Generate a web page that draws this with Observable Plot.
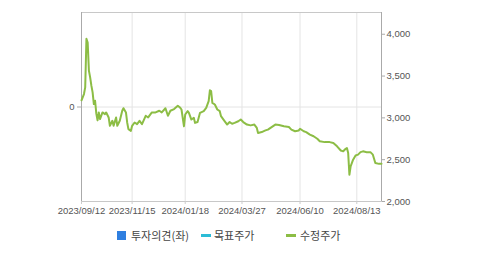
<!DOCTYPE html>
<html><head><meta charset="utf-8">
<script src="https://cdn.jsdelivr.net/npm/d3@7"></script>
<script src="https://cdn.jsdelivr.net/npm/@observablehq/plot@0.6"></script>
<style>
body{margin:0;background:#fff;}
#wrap{position:relative;width:479px;height:254px;overflow:hidden;background:#fff;}
#chart{position:absolute;left:0;top:0;}
#legend{position:absolute;top:226px;left:0;width:479px;height:18px;font-size:11px;color:#444;font-family:"Noto Sans CJK KR",sans-serif;}
.item{position:absolute;top:0;line-height:18px;white-space:nowrap;}
.sw{position:absolute;}
</style></head><body>
<div id="wrap"><div id="chart"></div><div id="legend"></div></div>
<script>
// trading-day index of each sampled point, and adjusted price (수정주가)
const days = [0,2,3,4,5,6,7,8,9,10,11,12,13,14,15,17,19,20,22,23,25,26,28,29,31,33,34,36,37,38,40,41,43,45,47,49,52,54,57,60,63,65,68,70,72,75,78,80,81,83,84,86,87,89,91,92,94,96,99,101,103,104,105,106,108,110,112,113,115,118,120,122,124,127,129,131,134,137,140,142,143,146,149,151,154,157,160,164,168,170,173,176,177,180,182,185,188,191,193,197,201,204,207,210,212,214,215,216,217,218,220,222,224,226,228,231,234,236,238,241,243];
const prices = [3210,3285,3365,3945,3900,3565,3485,3385,3305,3165,3205,3050,2970,3065,2985,3065,3045,3065,3005,2905,2965,2905,3005,2905,2965,3085,3115,3065,2945,2865,2845,2905,2945,2925,2965,2925,3025,3005,3065,3065,3085,3065,3115,3025,3085,3105,3145,3120,3100,2900,3040,3080,3060,2980,3000,2940,2950,3060,3080,3120,3200,3330,3320,3180,3160,3100,3080,3020,2980,2920,2950,2930,2940,2960,2980,2950,2920,2910,2920,2880,2820,2830,2850,2860,2890,2920,2915,2900,2890,2860,2840,2850,2870,2840,2830,2800,2780,2750,2720,2710,2710,2700,2660,2610,2600,2630,2640,2580,2320,2420,2500,2550,2560,2590,2600,2590,2590,2560,2460,2450,2450];
const dayDomain = [0, 243];
const tickDays = [0, 41, 84, 130, 177, 223];
const tickLabels = ["2023/09/12","2023/11/15","2024/01/18","2024/03/27","2024/06/10","2024/08/13"];
const priceDomain = [2000, 4260];
const priceTicks = [2000, 2500, 3000, 3500, 4000];
const opinionDomain = [-1, 1];
const opinionTicks = [0];
const legendNames = ["투자의견(좌)", "목표주가", "수정주가"];
const legendColors = ["#2f7fe0", "#2cbcd6", "#8cbd45"];

const toPrice = v => priceDomain[0] + (v - opinionDomain[0]) / (opinionDomain[1] - opinionDomain[0]) * (priceDomain[1] - priceDomain[0]);
const fromPrice = p => opinionDomain[0] + (p - priceDomain[0]) / (priceDomain[1] - priceDomain[0]) * (opinionDomain[1] - opinionDomain[0]);

const chart = Plot.plot({
  width: 479,
  height: 222,
  marginLeft: 81,
  marginRight: 98,
  marginTop: 12,
  marginBottom: 21,
  style: {fontFamily: '"Liberation Sans", Arial, sans-serif', fontSize: "9.5px", color: "#555", background: "transparent"},
  x: {domain: dayDomain},
  y: {domain: priceDomain},
  marks: [
    Plot.gridX(tickDays, {stroke: "#e4e4e4", strokeOpacity: 1}),
    Plot.gridY(opinionTicks.map(toPrice), {stroke: "#e4e4e4", strokeOpacity: 1}),
    Plot.frame({stroke: "#c8c8c8"}),
    Plot.ruleX([dayDomain[0], dayDomain[1]], {stroke: "#aaa"}),
    Plot.ruleY([priceDomain[0]], {stroke: "#c8c8c8"}),
    Plot.axisX(tickDays, {tickFormat: (d, i) => tickLabels[tickDays.indexOf(d)], tickSize: 3, tickPadding: 3, stroke: "#ccc", fill: "#555", label: null}),
    Plot.axisY(priceTicks, {anchor: "right", tickSize: 3, tickPadding: 2, tickFormat: d3.format(","), stroke: "#aaa", fill: "#555", label: null}),
    Plot.axisY(opinionTicks.map(toPrice), {anchor: "left", tickSize: 4, tickPadding: 3, tickFormat: d => String(Math.round(fromPrice(d))), stroke: "#aaa", fill: "#555", label: null}),
    Plot.line(days, {x: d => d, y: (d, i) => prices[i], stroke: legendColors[2], strokeWidth: 2, strokeLinejoin: "round"})
  ]
});
document.getElementById("chart").appendChild(chart);

// legend
const legend = document.getElementById("legend");
const pos = [{sw: 117, tx: 131}, {sw: 201, tx: 214}, {sw: 286, tx: 300}];
legendNames.forEach((name, i) => {
  const sw = document.createElement("div");
  sw.className = "sw";
  if (i === 0) {
    Object.assign(sw.style, {left: pos[i].sw + "px", top: "5px", width: "9px", height: "9px", background: legendColors[i]});
  } else {
    Object.assign(sw.style, {left: pos[i].sw + "px", top: "8px", width: "10px", height: "2.5px", background: legendColors[i]});
  }
  legend.appendChild(sw);
  const t = document.createElement("div");
  t.className = "item";
  t.style.left = pos[i].tx + "px";
  t.textContent = name;
  legend.appendChild(t);
});
</script>
</body></html>
